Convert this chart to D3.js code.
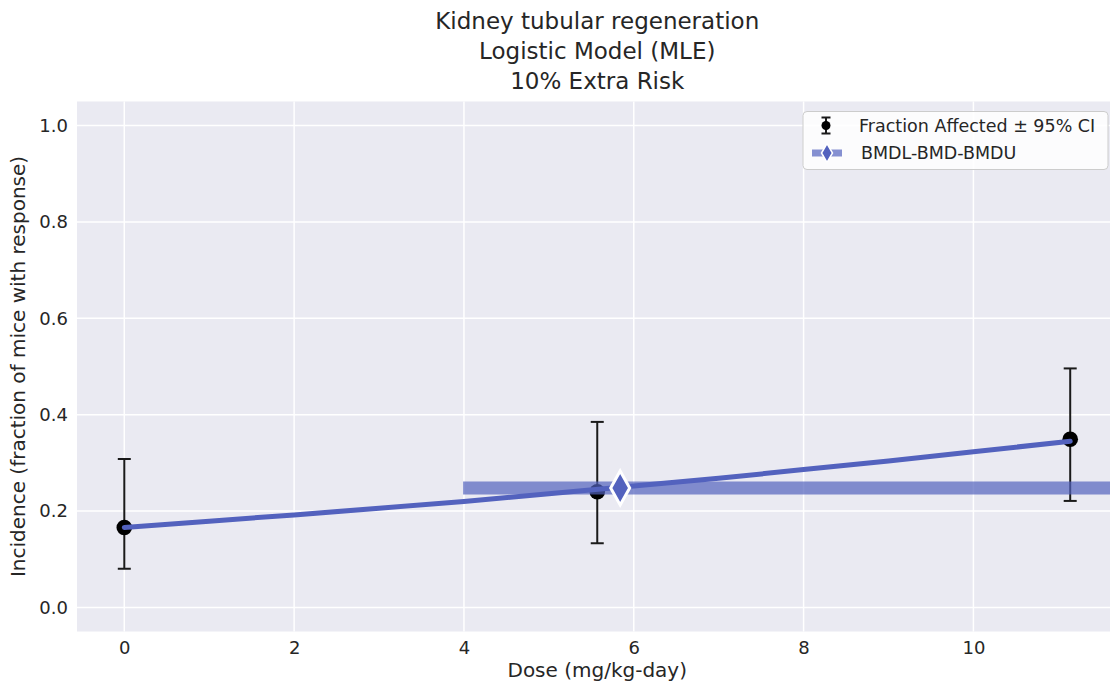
<!DOCTYPE html>
<html>
<head>
<meta charset="utf-8">
<script src="https://cdn.jsdelivr.net/npm/d3@7"></script>
<style>
  html, body { margin: 0; padding: 0; background: #ffffff; }
  svg { display: block; font-family: "DejaVu Sans", sans-serif; }
</style>
</head>
<body>
<svg id="chart" width="1110" height="691"></svg>
<script>
// Observed dose groups
const doses = [0, 5.57, 11.14];
const incidence = [0.166, 0.240, 0.349];
const ciLower = [0.080, 0.133, 0.221];
const ciUpper = [0.308, 0.385, 0.496];

// Fitted logistic curve, sampled along the dose axis
const curveDoses = [0, 1, 2, 3, 4, 5, 6, 7, 8, 9, 10, 11.14];
const curveResponse = [0.166, 0.179, 0.192, 0.206, 0.220, 0.236, 0.252, 0.268, 0.286, 0.304, 0.323, 0.345];

// Benchmark dose estimates (10% extra risk)
const bmdl = 3.99;
const bmd = 5.84;
const bmdu = 12.6;
const bmdResponse = 0.248;

const xTicks = [0, 2, 4, 6, 8, 10];
const yTicks = [0.0, 0.2, 0.4, 0.6, 0.8, 1.0];

const titleLines = ["Kidney tubular regeneration", "Logistic Model (MLE)", "10% Extra Risk"];
const xLabel = "Dose (mg/kg-day)";
const yLabel = "Incidence (fraction of mice with response)";
const legendLabels = ["Fraction Affected \u00b1 95% CI", "BMDL-BMD-BMDU"];

const lineColor = "#5362be";
const bandColor = "#5362be";
const bgColor = "#eaeaf2";

const svg = d3.select("#chart");
const plot = { left: 77, right: 1117.5, top: 101.5, bottom: 631.5 };

const xPad = 0.05 * d3.max(doses);
const x = d3.scaleLinear()
  .domain([d3.min(doses) - xPad, d3.max(doses) + xPad])
  .range([plot.left, plot.right]);
const y = d3.scaleLinear()
  .domain([-0.05, 1.05])
  .range([plot.bottom, plot.top]);

svg.append("defs").append("clipPath").attr("id", "plot-clip")
  .append("rect")
  .attr("x", plot.left).attr("y", plot.top)
  .attr("width", plot.right - plot.left).attr("height", plot.bottom - plot.top);

// Plot background
svg.append("rect")
  .attr("x", plot.left).attr("y", plot.top)
  .attr("width", plot.right - plot.left).attr("height", plot.bottom - plot.top)
  .attr("fill", bgColor);

// Grid lines
const grid = svg.append("g").attr("stroke", "#ffffff").attr("stroke-width", 1.5);
grid.selectAll(".gx").data(xTicks).join("line")
  .attr("x1", d => x(d)).attr("x2", d => x(d))
  .attr("y1", plot.top).attr("y2", plot.bottom);
grid.selectAll(".gy").data(yTicks).join("line")
  .attr("x1", plot.left).attr("x2", plot.right)
  .attr("y1", d => y(d)).attr("y2", d => y(d));

// Axes (labels only, no tick marks or spines)
const xAxis = svg.append("g")
  .attr("transform", `translate(0,${plot.bottom})`)
  .call(d3.axisBottom(x).tickValues(xTicks).tickFormat(d3.format("d")).tickSize(0).tickPadding(10));
const yAxis = svg.append("g")
  .attr("transform", `translate(${plot.left},0)`)
  .call(d3.axisLeft(y).tickValues(yTicks).tickFormat(d3.format(".1f")).tickSize(0).tickPadding(9));
[xAxis, yAxis].forEach(a => {
  a.select(".domain").remove();
  a.selectAll("text")
    .attr("fill", "#262626")
    .style("font-family", "DejaVu Sans, sans-serif")
    .style("font-size", "18px");
});

const layer = svg.append("g").attr("clip-path", "url(#plot-clip)");

// Error bars with caps
const pts = doses.map((d, i) => ({ d, p: incidence[i], lo: ciLower[i], hi: ciUpper[i] }));
const eb = layer.append("g").attr("stroke", "#1a1a1a").attr("stroke-width", 2);
eb.selectAll(".v").data(pts).join("line")
  .attr("x1", d => x(d.d)).attr("x2", d => x(d.d))
  .attr("y1", d => y(d.lo)).attr("y2", d => y(d.hi));
eb.selectAll(".ct").data(pts).join("line")
  .attr("x1", d => x(d.d) - 6.5).attr("x2", d => x(d.d) + 6.5)
  .attr("y1", d => y(d.hi)).attr("y2", d => y(d.hi));
eb.selectAll(".cb").data(pts).join("line")
  .attr("x1", d => x(d.d) - 6.5).attr("x2", d => x(d.d) + 6.5)
  .attr("y1", d => y(d.lo)).attr("y2", d => y(d.lo));

// Observed points
layer.selectAll(".pt").data(pts).join("circle")
  .attr("cx", d => x(d.d)).attr("cy", d => y(d.p))
  .attr("r", 7.8).attr("fill", "#000000");

// BMDL-BMDU band
layer.append("line")
  .attr("x1", x(bmdl)).attr("x2", x(bmdu))
  .attr("y1", y(bmdResponse)).attr("y2", y(bmdResponse))
  .attr("stroke", bandColor).attr("stroke-width", 13).attr("stroke-opacity", 0.7);

// Model curve
const curve = curveDoses.map((d, i) => [d, curveResponse[i]]);
layer.append("path")
  .datum(curve)
  .attr("d", d3.line().x(d => x(d[0])).y(d => y(d[1])))
  .attr("fill", "none").attr("stroke", lineColor)
  .attr("stroke-width", 5).attr("stroke-linecap", "round");

// BMD marker (thin diamond)
const diamond = (cx, cy, w, h) => `M${cx},${cy - h / 2}L${cx + w / 2},${cy}L${cx},${cy + h / 2}L${cx - w / 2},${cy}Z`;
layer.append("path")
  .attr("d", diamond(x(bmd), y(bmdResponse), 19, 34))
  .attr("fill", lineColor).attr("stroke", "#ffffff").attr("stroke-width", 3)
  .attr("stroke-linejoin", "miter");

// Title
svg.append("g").selectAll("text").data(titleLines).join("text")
  .attr("x", (plot.left + plot.right) / 2)
  .attr("y", (d, i) => 29 + i * 30)
  .attr("text-anchor", "middle")
  .attr("fill", "#262626")
  .style("font-size", "23px")
  .text(d => d);

// Axis titles
svg.append("text")
  .attr("x", (plot.left + plot.right) / 2).attr("y", 677)
  .attr("text-anchor", "middle").attr("fill", "#262626")
  .style("font-size", "20px").text(xLabel);
svg.append("text")
  .attr("transform", `translate(25,${(plot.top + plot.bottom) / 2}) rotate(-90)`)
  .attr("text-anchor", "middle").attr("fill", "#262626")
  .style("font-size", "20px").text(yLabel);

// Legend
const lg = svg.append("g");
lg.append("rect")
  .attr("x", 803).attr("y", 111.5).attr("width", 305).attr("height", 58)
  .attr("rx", 4).attr("fill", "#ffffff").attr("fill-opacity", 0.85)
  .attr("stroke", "#cccccc").attr("stroke-width", 1);
const r1 = 125.5, r2 = 153, ix = 826;
// errorbar entry
lg.append("line").attr("x1", ix).attr("x2", ix).attr("y1", r1 - 8).attr("y2", r1 + 8)
  .attr("stroke", "#1a1a1a").attr("stroke-width", 2);
[r1 - 8, r1 + 8].forEach(yy => lg.append("line")
  .attr("x1", ix - 4.5).attr("x2", ix + 4.5).attr("y1", yy).attr("y2", yy)
  .attr("stroke", "#1a1a1a").attr("stroke-width", 2));
lg.append("circle").attr("cx", ix).attr("cy", r1).attr("r", 4.5).attr("fill", "#000000");
// BMD entry
lg.append("line").attr("x1", 812).attr("x2", 842).attr("y1", r2).attr("y2", r2)
  .attr("stroke", bandColor).attr("stroke-width", 7).attr("stroke-opacity", 0.7);
lg.append("path").attr("d", diamond(ix + 1, r2, 11, 19))
  .attr("fill", lineColor).attr("stroke", "#ffffff").attr("stroke-width", 1.5);
lg.selectAll(".lt").data(legendLabels).join("text")
  .attr("x", (d, i) => i === 0 ? 859 : 861)
  .attr("y", (d, i) => (i === 0 ? r1 : r2) + 6)
  .attr("fill", "#262626")
  .style("font-size", "17.5px")
  .text(d => d);
</script>
</body>
</html>
